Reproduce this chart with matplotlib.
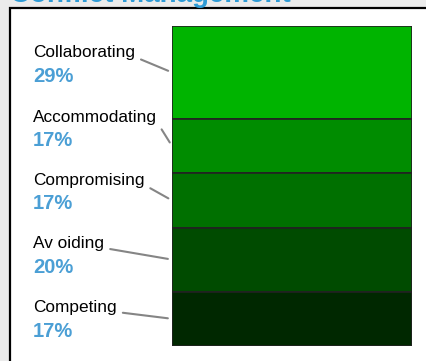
import matplotlib.pyplot as plt
from matplotlib.patches import Rectangle

# conflict management styles, top to bottom
styles = ['Collaborating', 'Accommodating', 'Compromising', 'Av oiding', 'Competing']
shares = [29, 17, 17, 20, 17]
colors = ['#00b400', '#008c00', '#007000', '#004b00', '#002800']

# label baselines in pixels from top (name, percent)
name_y = [57, 122, 185, 248, 312]
pct_y = [82, 146, 209, 273, 337]

W, H = 426, 361
plt.rcParams['font.family'] = ['Liberation Sans', 'DejaVu Sans']
fig = plt.figure(figsize=(W / 100, H / 100), dpi=100, facecolor='#ebebeb')

# white panel with black frame, running off the right and bottom edges
fig.patches.append(Rectangle((10 / W, -0.1), 1.2, 1 - 7.5 / H + 0.1,
                             transform=fig.transFigure, facecolor='white',
                             edgecolor='black', linewidth=1.6, zorder=-5))

fig.text(10 / W, 1 - 2.2 / H, 'Conflict Management', color='#2e9bd6',
         fontsize=20, fontweight='bold', va='baseline', ha='left')

ax = fig.add_axes([172 / W, 15 / H, 240 / W, 320 / H])
ax.set_xlim(-0.5, 0.5)
ax.set_ylim(0, 100)
ax.axis('off')

bottom = 100
mids = []
for name, s, c in zip(styles, shares, colors):
    bottom -= s
    ax.bar(0, s, width=1, bottom=bottom, color=c, edgecolor='#222222',
           linewidth=1.2)
    mids.append(bottom + s / 2)

for name, s, m, ny, py in zip(styles, shares, mids, name_y, pct_y):
    ax.annotate(name, xy=(-0.5, m), xycoords='data',
                xytext=(33, H - ny), textcoords='figure pixels',
                fontsize=12.4, color='black', ha='left', va='baseline',
                annotation_clip=False,
                arrowprops=dict(arrowstyle='-', color='#858585', lw=1.5,
                                relpos=(1, 0.2), shrinkA=2.5, shrinkB=3))
    fig.text(33 / W, 1 - py / H, f'{s}%', color='#4b9fd5', fontsize=14.5,
             fontweight='bold', va='baseline', ha='left')

fig.savefig('out.png', dpi=100, facecolor=fig.get_facecolor())
